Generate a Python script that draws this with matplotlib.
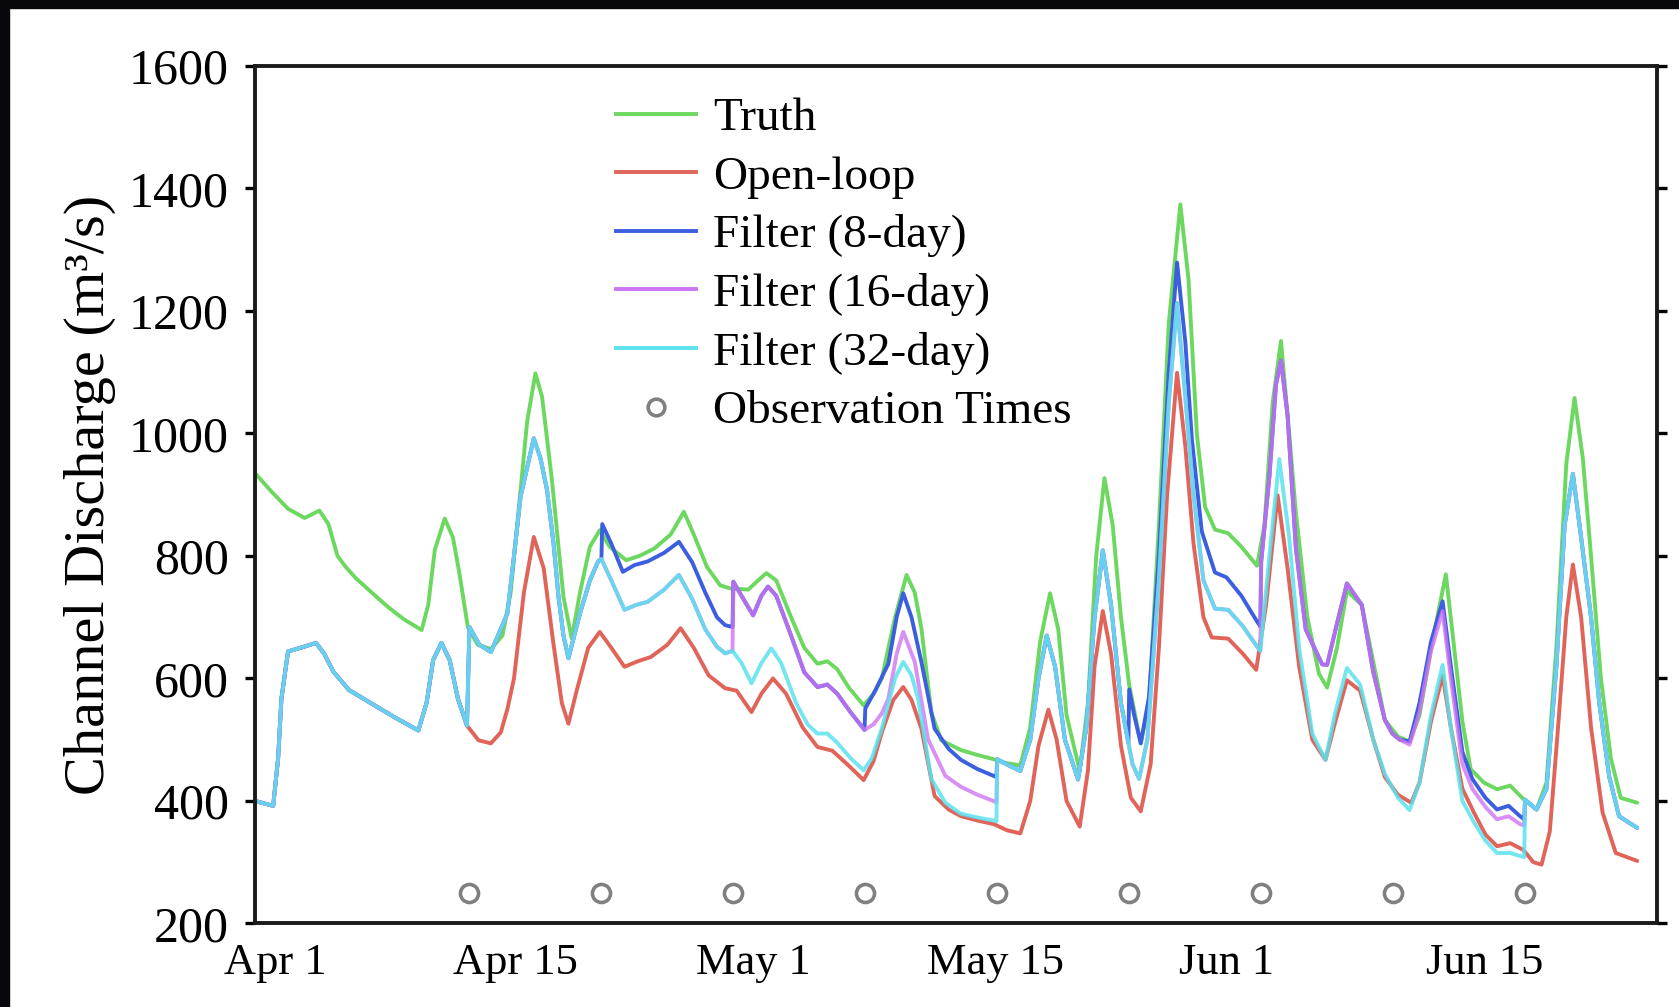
import matplotlib
matplotlib.use("Agg")
import matplotlib.pyplot as plt
from matplotlib.lines import Line2D
from matplotlib.patches import Rectangle

plt.rcParams['font.family'] = ['Liberation Serif', 'DejaVu Serif']

# time axis: days after Apr 1, discharge in m3/s
tick_days = [1.25, 15.8, 30.2, 44.9, 58.9, 74.55]
tick_labels = ['Apr 1', 'Apr 15', 'May 1', 'May 15', 'Jun 1', 'Jun 15']
obs_days = [13, 21, 29, 37, 45, 53, 61, 69, 77]
obs_level = 250

truth_t = [0.0, 1.0, 2.0, 3.0, 3.9, 4.45, 5.0, 5.5, 6.1, 7.0, 8.0, 9.0, 10.1, 10.5, 10.9, 11.5,
           12.0, 12.4, 12.9, 13.5, 14.3, 15.0, 15.5, 16.0, 16.5, 17.0, 17.4, 18.0, 18.7, 19.2,
           19.7, 20.3, 20.9, 21.5, 22.5, 23.3, 24.2, 25.2, 26.0, 26.6, 27.4, 28.2, 28.8, 29.9,
           30.5, 31.0, 31.6, 32.5, 33.3, 34.1, 34.7, 35.3, 36.0, 36.9, 37.5, 38.0, 38.8, 39.5,
           40.0, 40.4, 41.0, 41.6, 42.8, 43.8, 44.8, 45.5, 46.4, 47.0, 47.6, 48.2, 48.7, 49.2,
           50.0, 50.5, 51.0, 51.5, 52.0, 52.5, 53.0, 53.7, 54.2, 54.8, 55.4, 56.1, 56.6, 57.1,
           57.6, 58.2, 59.0, 59.8, 60.75, 61.2, 61.7, 62.2, 62.7, 63.1, 63.8, 64.5, 65.0, 65.6,
           66.2, 67.1, 68.0, 68.5, 69.3, 70.0, 70.6, 71.3, 72.2, 72.7, 73.2, 73.7, 74.5, 75.3,
           76.1, 76.9, 77.7, 78.3, 78.9, 79.5, 80.0, 80.5, 81.0, 81.6, 82.2, 82.8, 83.8]
truth_q = [935, 905, 877, 862, 874, 852, 800, 782, 764, 742, 718, 697, 679, 720, 810, 861,
           830, 770, 684, 655, 648, 670, 740, 880, 1020, 1098, 1060, 924, 733, 665,
           740, 815, 842, 815, 793, 800, 812, 835, 872, 835, 782, 752, 747, 745,
           760, 772, 760, 700, 650, 624, 628, 615, 585, 556, 575, 600, 699, 769,
           740, 682, 545, 499, 483, 475, 468, 462, 458, 520, 660, 739, 680, 540,
           449, 560, 800, 927, 850, 700, 589, 494, 560, 850, 1180, 1374, 1250, 1000,
           880, 843, 837, 815, 784, 850, 1050, 1151, 1000, 872, 700, 608, 585, 650,
           743, 720, 600, 532, 505, 497, 540, 650, 770, 650, 530, 452, 430, 419,
           425, 403, 386, 430, 650, 950, 1058, 960, 800, 600, 470, 405, 397]

open_t = [0.0, 1.1, 1.4, 1.6, 2.0, 3.0, 3.7, 4.2, 4.75, 5.7, 7.0, 8.5, 9.9, 10.4, 10.8, 11.3,
          11.8, 12.3, 12.85, 13.55, 14.3, 14.9, 15.3, 15.7, 16.3, 16.9, 17.5, 18.1, 18.6, 19.0,
          19.5, 20.2, 20.9, 21.6, 22.4, 23.2, 24.0, 25.0, 25.8, 26.6, 27.5, 28.5, 29.2, 30.1,
          30.7, 31.4, 32.2, 33.2, 34.1, 35.0, 35.9, 36.9, 37.5, 38.0, 38.7, 39.3, 39.8, 40.4,
          41.2, 42.05, 42.8, 43.8, 44.8, 45.6, 46.4, 47.0, 47.5, 48.1, 48.6, 49.2, 50.0, 50.5,
          50.9, 51.4, 51.9, 52.5, 53.1, 53.7, 54.3, 54.8, 55.3, 55.9, 56.4, 56.9, 57.5, 58.0,
          59.0, 59.9, 60.7, 61.3, 62.0, 62.6, 63.3, 64.1, 64.9, 65.5, 66.2, 67.0, 67.8, 68.5,
          69.3, 70.1, 70.6, 71.3, 72.0, 72.5, 73.2, 73.9, 74.6, 75.3, 76.1, 76.9, 77.5, 78.0,
          78.5, 79.0, 79.5, 79.9, 80.4, 81.0, 81.7, 82.5, 83.8]
open_q = [400, 392, 470, 567, 644, 652, 658, 640, 611, 581, 560, 536, 515, 560, 630, 658,
          630, 567, 523, 499, 494, 512, 550, 600, 740, 831, 780, 655, 560, 526,
          580, 650, 676, 650, 619, 628, 635, 655, 682, 650, 605, 584, 580, 545,
          575, 600, 575, 520, 488, 482, 460, 434, 465, 512, 565, 586, 565, 518,
          408, 386, 375, 368, 362, 352, 347, 400, 490, 549, 500, 400, 358, 450,
          620, 710, 640, 490, 405, 383, 460, 650, 900, 1099, 980, 820, 700, 667,
          665, 640, 614, 720, 899, 780, 620, 500, 467, 530, 597, 580, 500, 439,
          410, 397, 430, 530, 605, 520, 420, 381, 345, 326, 331, 320, 300, 296,
          350, 520, 700, 786, 700, 520, 381, 315, 302]

# filter runs, split where they share the same trajectory
all_13_21 = [(13.0, 684), (13.6, 655), (14.3, 643), (15.3, 706), (15.7, 800), (16.1, 897),
             (16.9, 992), (17.3, 960), (17.7, 908), (18.1, 820), (18.4, 733), (18.7, 670),
             (19.0, 633), (19.7, 706), (20.3, 760), (20.8, 791), (21.0, 795)]
f8_21_29 = [(21.05, 852), (21.6, 820), (22.3, 774), (23.0, 785), (23.8, 791), (24.8, 805),
            (25.7, 823), (26.5, 790), (27.3, 740), (28.0, 700), (28.5, 687), (28.95, 684)]
f16_32_21_29 = [(21.6, 760), (22.4, 712), (23.1, 720), (23.8, 725), (24.8, 745), (25.7, 769),
                (26.5, 730), (27.3, 680), (28.0, 652), (28.5, 641), (28.95, 645)]
f8_16_29_37 = [(29.0, 758), (29.6, 730), (30.2, 703), (30.7, 735), (31.1, 750), (31.6, 735),
               (32.5, 670), (33.3, 610), (34.1, 586), (34.7, 590), (35.3, 575), (36.1, 545),
               (36.95, 516)]
f32_29_45 = [(29.5, 625), (30.1, 592), (30.7, 625), (31.3, 649), (31.9, 625), (32.8, 560),
             (33.5, 525), (34.1, 510), (34.7, 510), (35.3, 495), (36.1, 470), (36.9, 450),
             (37.4, 470), (38.0, 518), (38.8, 600), (39.3, 627), (39.8, 605), (40.2, 567),
             (41.0, 436), (41.85, 397), (42.8, 379), (43.8, 373), (44.95, 367)]
f8_37_45 = [(37.0, 551), (37.6, 580), (38.4, 624), (38.9, 700), (39.3, 739), (39.8, 700),
            (40.4, 627), (41.2, 518), (42.05, 485), (42.8, 467), (43.8, 452), (44.95, 439)]
f16_37_45 = [(37.5, 525), (38.0, 543), (38.4, 567), (38.9, 640), (39.3, 676), (40.0, 627),
             (40.8, 501), (41.85, 441), (42.8, 423), (43.8, 410), (44.95, 398)]
all_45_53 = [(45.0, 468), (45.7, 458), (46.4, 449), (47.0, 500), (47.5, 600), (48.0, 670),
             (48.5, 620), (49.1, 500), (49.9, 435), (50.4, 520), (50.9, 700), (51.4, 809),
             (51.9, 720), (52.5, 560), (52.95, 495)]
f8_53_61 = [(53.0, 582), (53.3, 540), (53.7, 494), (54.2, 570), (54.8, 800), (55.4, 1100),
            (55.9, 1279), (56.4, 1150), (56.8, 990), (57.4, 840), (58.2, 773), (58.9, 765),
            (59.8, 735), (60.75, 693), (60.95, 685)]
f16_32_53_61 = [(53.2, 460), (53.6, 436), (54.1, 500), (54.8, 760), (55.4, 1050), (55.9, 1213),
                (56.4, 1060), (56.9, 900), (57.5, 760), (58.2, 714), (59.0, 712), (59.9, 685),
                (60.75, 652), (60.95, 645)]
f8_16_61_69 = [(61.0, 790), (61.5, 930), (61.9, 1080), (62.2, 1119), (62.6, 1030), (63.1, 814),
               (63.7, 680), (64.7, 623), (65.0, 622), (65.6, 690), (66.2, 755), (67.1, 720),
               (67.8, 610), (68.5, 532), (68.95, 510)]
f32_61_77 = [(61.5, 800), (62.1, 958), (62.7, 830), (63.3, 650), (64.1, 510), (64.9, 467),
             (65.5, 545), (66.2, 617), (67.0, 590), (67.8, 500), (68.5, 444), (69.3, 405),
             (70.0, 385), (70.6, 430), (71.3, 540), (72.0, 622), (72.5, 520), (73.2, 400),
             (73.9, 365), (74.6, 335), (75.3, 315), (76.1, 315), (76.95, 308)]
f8_69_77 = [(69.4, 500), (70.0, 497), (70.6, 560), (71.3, 660), (72.0, 726), (72.5, 620),
            (73.2, 480), (73.8, 436), (74.6, 405), (75.3, 386), (76.0, 392), (76.7, 375),
            (76.95, 370)]
f16_69_77 = [(69.4, 500), (70.0, 492), (70.6, 545), (71.3, 645), (72.0, 710), (72.5, 600),
             (73.2, 460), (73.8, 420), (74.6, 390), (75.3, 370), (76.0, 375), (76.7, 362),
             (76.95, 360)]
all_77_end = [(77.0, 402), (77.7, 386), (78.3, 420), (78.9, 620), (79.4, 850), (79.9, 934),
              (80.4, 830), (81.0, 700), (81.5, 560), (82.1, 440), (82.7, 375), (83.8, 356)]

# before the first observation every filter run equals the open loop
spinup = [(t, q) for t, q in zip(open_t, open_q) if t < 13]


def join(*parts):
    pts = [p for part in parts for p in part]
    return [p[0] for p in pts], [p[1] for p in pts]


f8_t, f8_q = join(spinup, all_13_21, f8_21_29, f8_16_29_37, f8_37_45, all_45_53,
                  f8_53_61, f8_16_61_69, f8_69_77, all_77_end)
f16_t, f16_q = join(spinup, all_13_21, f16_32_21_29, f8_16_29_37, f16_37_45, all_45_53,
                    f16_32_53_61, f8_16_61_69, f16_69_77, all_77_end)
f32_t, f32_q = join(spinup, all_13_21, f16_32_21_29, f32_29_45, all_45_53,
                    f16_32_53_61, f32_61_77, all_77_end)

c_truth = '#6cd860'
c_open = '#e0645a'
c_f8 = '#3c5fe0'
c_f16 = '#cf74f2'
c_f32 = '#5ae2ee'
lw = 2.8
style = dict(lw=lw, solid_joinstyle='round', solid_capstyle='round')

fig = plt.figure(figsize=(16.79, 10.07), dpi=100)
ax = fig.add_axes([0.1519, 0.0830, 0.8350, 0.8515])

ax.plot(truth_t, truth_q, color=c_truth, **style)
ax.plot(open_t, open_q, color=c_open, **style)
ax.plot(f8_t, f8_q, color=c_f8, **style)
ax.plot(f16_t, f16_q, color=c_f16, alpha=0.8, **style)
ax.plot(f32_t, f32_q, color=c_f32, alpha=0.85, **style)
ax.plot(obs_days, [obs_level] * len(obs_days), 'o', mfc='none', mec='#808080', ms=13, mew=2.6)

ax.set_xlim(0, 85.0)
ax.set_ylim(200, 1600)
ax.set_yticks(range(200, 1601, 200))
ax.set_xticks(tick_days)
ax.set_xticklabels(tick_labels)
ax.tick_params(axis='y', direction='out', length=7, width=2.4, right=True, labelsize=36, pad=12)
ax.tick_params(axis='x', length=0, labelsize=32, pad=14)
for s in ax.spines.values():
    s.set_linewidth(2.8)
    s.set_color('#1a1a1a')

ax.set_ylabel('Channel Discharge (m³/s)', fontsize=42)
ax.yaxis.set_label_coords(-0.099, 0.5)

handles = [Line2D([], [], color=c_truth, lw=lw),
           Line2D([], [], color=c_open, lw=lw),
           Line2D([], [], color=c_f8, lw=lw),
           Line2D([], [], color=c_f16, lw=lw),
           Line2D([], [], color=c_f32, lw=lw),
           Line2D([], [], ls='none', marker='o', mfc='none', mec='#808080', ms=12, mew=2.6)]
labels = ['Truth', 'Open-loop', 'Filter (8-day)', 'Filter (16-day)', 'Filter (32-day)',
          'Observation Times']
ax.legend(handles, labels, loc='upper left', bbox_to_anchor=(616 / 1679, 1 - 97 / 1007),
          bbox_transform=fig.transFigure, frameon=False, fontsize=34, handlelength=1.7,
          handletextpad=0.35, labelspacing=0.33, borderpad=0, borderaxespad=0)

# dark frame along the top and left edge
fig.add_artist(Rectangle((0, 1 - 8 / 1007), 1, 8 / 1007, transform=fig.transFigure,
                         color='#07070c', zorder=10))
fig.add_artist(Rectangle((0, 0), 9 / 1679, 1, transform=fig.transFigure,
                         color='#07070c', zorder=10))

fig.savefig('out.png', dpi=100, facecolor='white')
